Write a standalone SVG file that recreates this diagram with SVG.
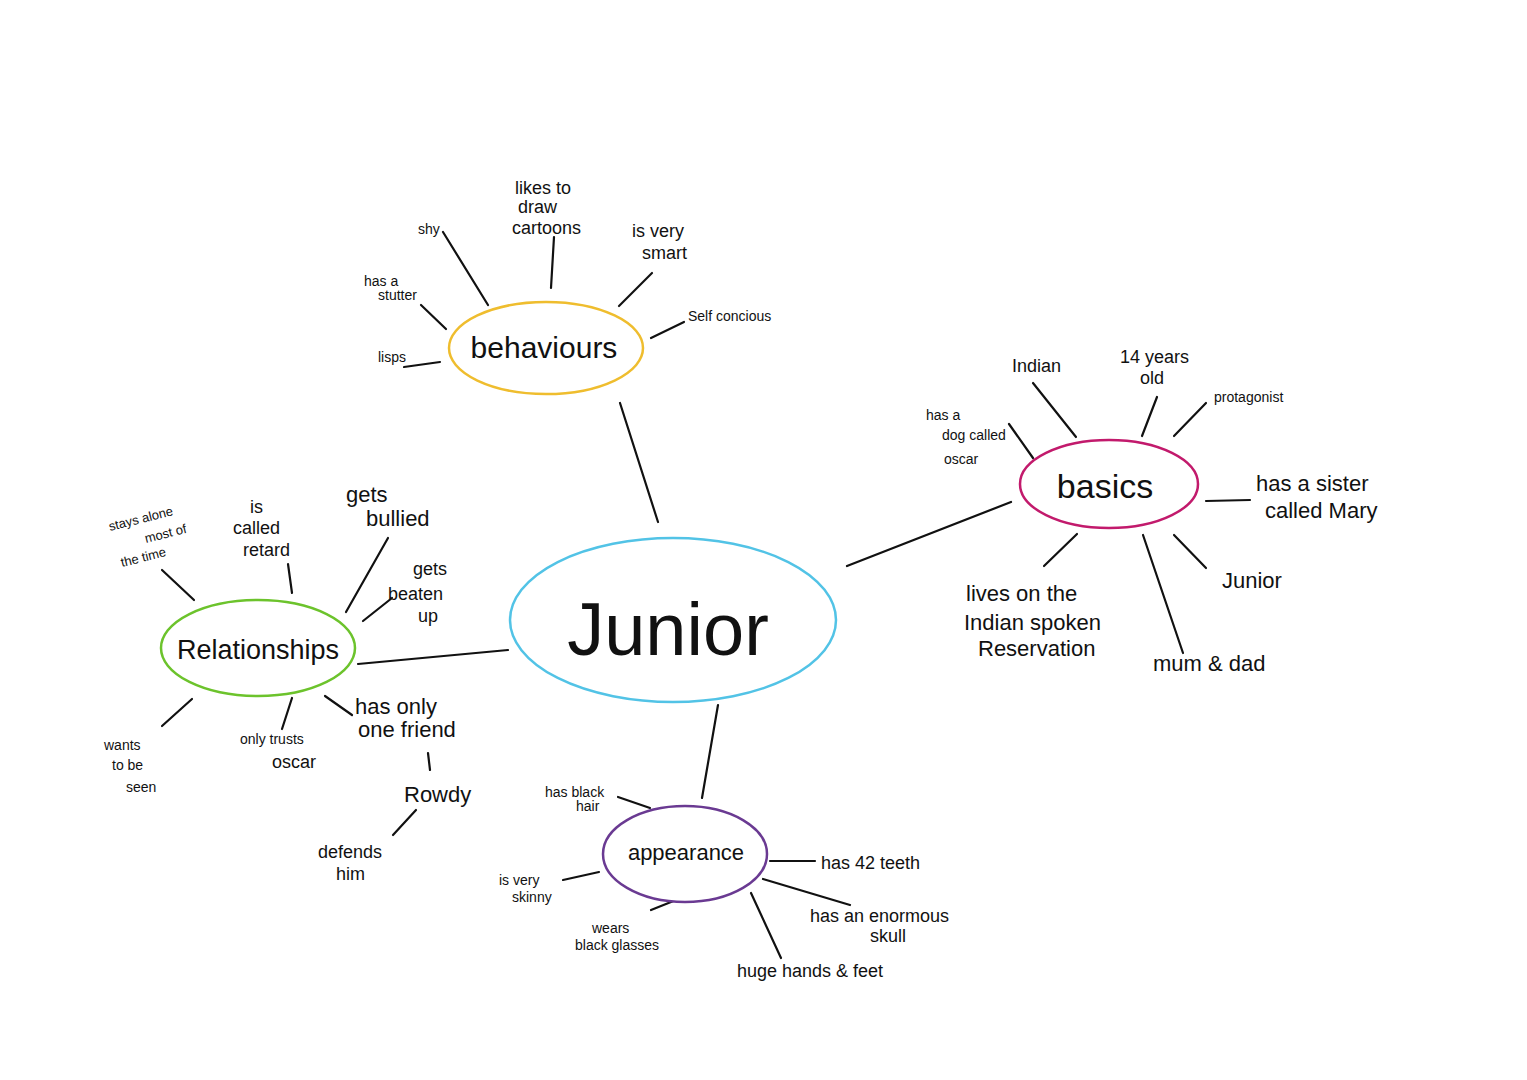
<svg xmlns="http://www.w3.org/2000/svg" width="1527" height="1080" viewBox="0 0 1527 1080">
<style>
text{font-family:"Liberation Sans","DejaVu Sans",sans-serif;fill:#111}
.s{font-size:14px}
.m{font-size:18px}
.l{font-size:22px}
.hub{fill:#fff;stroke-width:2.5}
.c line{stroke:#111;stroke-width:2.2;stroke-linecap:round}
</style>
<rect width="1527" height="1080" fill="#fff"/>
<g class="c" id="connectors">
<line x1="620" y1="403" x2="658" y2="522"/>
<line x1="358" y1="664" x2="508" y2="650"/>
<line x1="847" y1="566" x2="1011" y2="502"/>
<line x1="718" y1="705" x2="702" y2="798"/>
<line x1="443" y1="232" x2="488" y2="305"/>
<line x1="554" y1="237" x2="551" y2="288"/>
<line x1="652" y1="273" x2="619" y2="306"/>
<line x1="651" y1="338" x2="684" y2="322"/>
<line x1="421" y1="305" x2="446" y2="329"/>
<line x1="404" y1="367" x2="440" y2="362"/>
<line x1="162" y1="570" x2="194" y2="600"/>
<line x1="288" y1="564" x2="292" y2="593"/>
<line x1="388" y1="538" x2="346" y2="612"/>
<line x1="363" y1="621" x2="392" y2="598"/>
<line x1="192" y1="699" x2="162" y2="726"/>
<line x1="292" y1="698" x2="282" y2="729"/>
<line x1="325" y1="696" x2="352" y2="715"/>
<line x1="428" y1="753" x2="430" y2="770"/>
<line x1="416" y1="810" x2="393" y2="835"/>
<line x1="1033" y1="383" x2="1076" y2="437"/>
<line x1="1157" y1="397" x2="1142" y2="436"/>
<line x1="1206" y1="403" x2="1174" y2="436"/>
<line x1="1009" y1="424" x2="1033" y2="458"/>
<line x1="1206" y1="501" x2="1250" y2="500"/>
<line x1="1174" y1="535" x2="1206" y2="568"/>
<line x1="1143" y1="535" x2="1183" y2="653"/>
<line x1="1077" y1="534" x2="1044" y2="566"/>
<line x1="618" y1="797" x2="650" y2="808"/>
<line x1="563" y1="880" x2="599" y2="872"/>
<line x1="651" y1="910" x2="681" y2="898"/>
<line x1="751" y1="893" x2="781" y2="958"/>
<line x1="763" y1="879" x2="850" y2="905"/>
<line x1="770" y1="861" x2="815" y2="861"/>
</g>
<g id="junior">
<ellipse class="hub" cx="673" cy="620" rx="163" ry="82" stroke="#52c3e6"/>
<text x="668" y="655" font-size="74" text-anchor="middle">Junior</text>
</g>
<g id="behaviours">
<ellipse class="hub" cx="546" cy="348" rx="97" ry="46" stroke="#efbd2e"/>
<text x="544" y="358" font-size="30" text-anchor="middle">behaviours</text>
</g>
<g id="relationships">
<ellipse class="hub" cx="258" cy="648" rx="97" ry="48" stroke="#6cc32c"/>
<text x="258" y="659" font-size="27" text-anchor="middle">Relationships</text>
</g>
<g id="basics">
<ellipse class="hub" cx="1109" cy="484" rx="89" ry="44" stroke="#c21a6c"/>
<text x="1105" y="498" font-size="34" text-anchor="middle">basics</text>
</g>
<g id="appearance">
<ellipse class="hub" cx="685" cy="854" rx="82" ry="48" stroke="#6a3a92"/>
<text x="686" y="860" font-size="22" text-anchor="middle">appearance</text>
</g>
<g id="behaviour-leaves">
<text class="s" x="418" y="234">shy</text>
<text class="m" x="515" y="194">likes to</text>
<text class="m" x="518" y="213">draw</text>
<text class="m" x="512" y="234">cartoons</text>
<text class="m" x="632" y="237">is very</text>
<text class="m" x="642" y="259">smart</text>
<text class="s" x="688" y="321">Self concious</text>
<text class="s" x="364" y="286">has a</text>
<text class="s" x="378" y="300">stutter</text>
<text class="s" x="378" y="362">lisps</text>
</g>
<g id="relationship-leaves">
<text x="110" y="531" font-size="13" transform="rotate(-14 110 531)">stays alone</text>
<text x="146" y="543" font-size="13" transform="rotate(-14 146 543)">most of</text>
<text x="122" y="567" font-size="13" transform="rotate(-14 122 567)">the time</text>
<text class="m" x="250" y="513">is</text>
<text class="m" x="233" y="534">called</text>
<text class="m" x="243" y="556">retard</text>
<text class="l" x="346" y="502">gets</text>
<text class="l" x="366" y="526">bullied</text>
<text class="m" x="413" y="575">gets</text>
<text class="m" x="388" y="600">beaten</text>
<text class="m" x="418" y="622">up</text>
<text class="s" x="104" y="750">wants</text>
<text class="s" x="112" y="770">to be</text>
<text class="s" x="126" y="792">seen</text>
<text class="s" x="240" y="744">only trusts</text>
<text class="m" x="272" y="768">oscar</text>
<text class="l" x="355" y="714">has only</text>
<text class="l" x="358" y="737">one friend</text>
<text class="l" x="404" y="802">Rowdy</text>
<text class="m" x="318" y="858">defends</text>
<text class="m" x="336" y="880">him</text>
</g>
<g id="basics-leaves">
<text class="m" x="1012" y="372">Indian</text>
<text class="m" x="1120" y="363">14 years</text>
<text class="m" x="1140" y="384">old</text>
<text class="s" x="1214" y="402">protagonist</text>
<text class="s" x="926" y="420">has a</text>
<text class="s" x="942" y="440">dog called</text>
<text class="s" x="944" y="464">oscar</text>
<text class="l" x="1256" y="491">has a sister</text>
<text class="l" x="1265" y="518">called Mary</text>
<text class="l" x="1222" y="588">Junior</text>
<text class="l" x="1153" y="671">mum &amp; dad</text>
<text class="l" x="966" y="601">lives on the</text>
<text class="l" x="964" y="630">Indian spoken</text>
<text class="l" x="978" y="656">Reservation</text>
</g>
<g id="appearance-leaves">
<text class="s" x="545" y="797">has black</text>
<text class="s" x="576" y="811">hair</text>
<text class="s" x="499" y="885">is very</text>
<text class="s" x="512" y="902">skinny</text>
<text class="s" x="592" y="933">wears</text>
<text class="s" x="575" y="950">black glasses</text>
<text class="m" x="737" y="977">huge hands &amp; feet</text>
<text class="m" x="810" y="922">has an enormous</text>
<text class="m" x="870" y="942">skull</text>
<text class="m" x="821" y="869">has 42 teeth</text>
</g>
</svg>
